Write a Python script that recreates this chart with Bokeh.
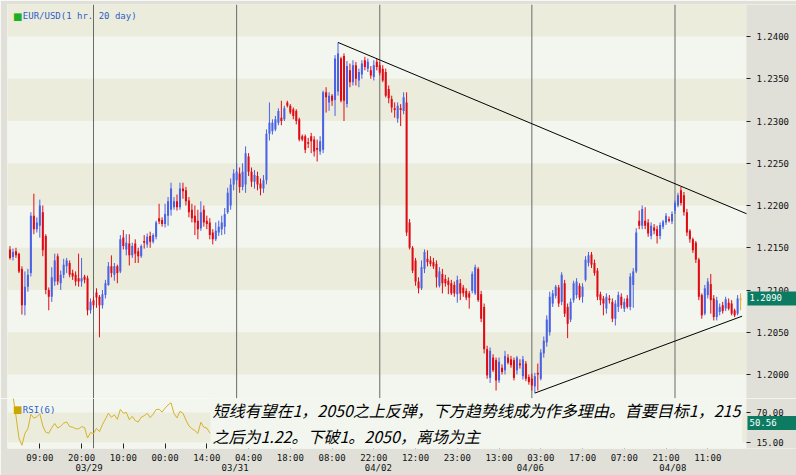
import numpy as np
from bokeh.plotting import figure
from bokeh.layouts import column
from bokeh.models import (FixedTicker, Span, Label, BoxAnnotation, Range1d,
                          ColumnDataSource, PrintfTickFormatter)
from bokeh.embed import file_html
from bokeh.resources import INLINE

# ---------------- data (EUR/USD 1 hr bars) ----------------
open_ = [1.2148,1.2139,1.2146,1.2143,1.2125,1.2082,1.2104,1.2120,1.2188,1.2172,
         1.2176,1.2192,1.2164,1.2100,1.2092,1.2110,1.2140,1.2108,1.2118,1.2128,
         1.2132,1.2120,1.2118,1.2114,1.2110,1.2116,1.2114,1.2076,1.2088,1.2097,
         1.2092,1.2082,1.2094,1.2106,1.2128,1.2118,1.2128,1.2122,1.2162,1.2148,
         1.2155,1.2141,1.2155,1.2146,1.2140,1.2158,1.2154,1.2164,1.2157,1.2163,
         1.2185,1.2183,1.2178,1.2188,1.2195,1.2198,1.2205,1.2198,1.2220,1.2218,
         1.2206,1.2195,1.2188,1.2182,1.2173,1.2195,1.2182,1.2180,1.2168,1.2160,
         1.2168,1.2172,1.2175,1.2192,1.2200,1.2225,1.2230,1.2238,1.2222,1.2225,
         1.2258,1.2240,1.2228,1.2235,1.2226,1.2220,1.2230,1.2285,1.2288,1.2290,
         1.2298,1.2304,1.2302,1.2322,1.2318,1.2314,1.2312,1.2302,1.2282,1.2282,
         1.2275,1.2282,1.2278,1.2268,1.2264,1.2266,1.2334,1.2322,1.2330,1.2325,
         1.2335,1.2374,1.2377,1.2320,1.2360,1.2346,1.2366,1.2348,1.2355,1.2372,
         1.2362,1.2360,1.2352,1.2370,1.2366,1.2362,1.2358,1.2338,1.2326,1.2315,
         1.2303,1.2315,1.2312,1.2322,1.2180,1.2150,1.2135,1.2110,1.2102,1.2125,
         1.2137,1.2135,1.2133,1.2131,1.2105,1.2119,1.2113,1.2111,1.2108,1.2106,
         1.2095,1.2108,1.2103,1.2099,1.2096,1.2099,1.2096,1.2125,1.2095,1.2080,
         1.2030,1.1996,1.2020,1.2017,1.1993,1.2008,1.2005,1.2020,1.2018,1.2017,
         1.2005,1.2013,1.1998,1.2013,1.1997,1.1995,1.1986,1.2002,1.1995,1.2025,
         1.2038,1.2050,1.2084,1.2093,1.2103,1.2086,1.2108,1.2080,1.2065,1.2088,
         1.2094,1.2105,1.2092,1.2112,1.2132,1.2142,1.2132,1.2123,1.2095,1.2090,
         1.2078,1.2090,1.2086,1.2066,1.2080,1.2092,1.2078,1.2090,1.2080,1.2106,
         1.2122,1.2182,1.2176,1.2182,1.2180,1.2164,1.2174,1.2172,1.2164,1.2175,
         1.2180,1.2184,1.2181,1.2194,1.2200,1.2218,1.2212,1.2192,1.2170,1.2160,
         1.2156,1.2136,1.2094,1.2072,1.2094,1.2107,1.2090,1.2068,1.2074,1.2082,
         1.2078,1.2085,1.2084,1.2076,1.2072,1.2088]
high_ = [1.2152,1.2149,1.2150,1.2144,1.2128,1.2122,1.2125,1.2192,1.2214,1.2186,
         1.2207,1.2200,1.2166,1.2103,1.2127,1.2143,1.2143,1.2123,1.2137,1.2138,
         1.2135,1.2124,1.2122,1.2143,1.2138,1.2118,1.2117,1.2090,1.2092,1.2102,
         1.2094,1.2100,1.2112,1.2133,1.2141,1.2132,1.2130,1.2165,1.2171,1.2166,
         1.2166,1.2156,1.2160,1.2150,1.2154,1.2165,1.2167,1.2169,1.2167,1.2182,
         1.2202,1.2186,1.2202,1.2210,1.2227,1.2210,1.2213,1.2227,1.2227,1.2222,
         1.2210,1.2202,1.2200,1.2195,1.2205,1.2200,1.2188,1.2185,1.2172,1.2180,
         1.2182,1.2188,1.2197,1.2221,1.2232,1.2243,1.2250,1.2245,1.2250,1.2270,
         1.2262,1.2245,1.2242,1.2240,1.2232,1.2236,1.2290,1.2322,1.2302,1.2306,
         1.2315,1.2324,1.2318,1.2324,1.2320,1.2316,1.2314,1.2304,1.2284,1.2284,
         1.2280,1.2286,1.2282,1.2278,1.2282,1.2336,1.2340,1.2334,1.2332,1.2378,
         1.2393,1.2376,1.2380,1.2371,1.2368,1.2372,1.2370,1.2362,1.2372,1.2376,
         1.2374,1.2365,1.2372,1.2374,1.2370,1.2366,1.2362,1.2342,1.2330,1.2322,
         1.2322,1.2320,1.2334,1.2334,1.2184,1.2152,1.2138,1.2115,1.2135,1.2148,
         1.2147,1.2140,1.2138,1.2135,1.2127,1.2125,1.2118,1.2115,1.2112,1.2110,
         1.2117,1.2113,1.2106,1.2102,1.2099,1.2122,1.2130,1.2127,1.2099,1.2084,
         1.2034,1.2032,1.2024,1.2020,1.2020,1.2012,1.2028,1.2024,1.2022,1.2020,
         1.2022,1.2018,1.2022,1.2016,1.2000,1.2001,1.2002,1.2013,1.2030,1.2045,
         1.2070,1.2098,1.2100,1.2106,1.2106,1.2121,1.2112,1.2084,1.2090,1.2111,
         1.2114,1.2108,1.2108,1.2140,1.2145,1.2145,1.2136,1.2126,1.2098,1.2093,
         1.2096,1.2094,1.2090,1.2088,1.2098,1.2096,1.2090,1.2094,1.2120,1.2126,
         1.2173,1.2194,1.2200,1.2198,1.2184,1.2180,1.2178,1.2176,1.2180,1.2183,
         1.2191,1.2187,1.2193,1.2206,1.2215,1.2222,1.2216,1.2196,1.2172,1.2162,
         1.2158,1.2138,1.2096,1.2106,1.2114,1.2119,1.2094,1.2092,1.2084,1.2086,
         1.2092,1.2090,1.2088,1.2078,1.2094,1.2096]
low_ = [1.2136,1.2135,1.2138,1.2120,1.2071,1.2070,1.2098,1.2116,1.2166,1.2168,
        1.2162,1.2140,1.2095,1.2076,1.2086,1.2105,1.2106,1.2100,1.2114,1.2120,
        1.2115,1.2112,1.2105,1.2104,1.2104,1.2108,1.2070,1.2072,1.2078,1.2079,
        1.2044,1.2078,1.2090,1.2105,1.2115,1.2111,1.2108,1.2120,1.2148,1.2141,
        1.2129,1.2138,1.2132,1.2132,1.2138,1.2149,1.2150,1.2150,1.2155,1.2160,
        1.2178,1.2175,1.2174,1.2176,1.2188,1.2195,1.2194,1.2195,1.2208,1.2200,
        1.2186,1.2180,1.2165,1.2160,1.2170,1.2175,1.2172,1.2160,1.2154,1.2158,
        1.2164,1.2165,1.2166,1.2190,1.2195,1.2218,1.2225,1.2215,1.2218,1.2215,
        1.2235,1.2222,1.2220,1.2218,1.2212,1.2215,1.2225,1.2277,1.2284,1.2288,
        1.2295,1.2295,1.2300,1.2316,1.2308,1.2302,1.2296,1.2276,1.2276,1.2262,
        1.2268,1.2262,1.2258,1.2252,1.2260,1.2262,1.2310,1.2312,1.2318,1.2306,
        1.2330,1.2322,1.2300,1.2316,1.2340,1.2342,1.2342,1.2340,1.2350,1.2360,
        1.2358,1.2350,1.2348,1.2360,1.2354,1.2346,1.2328,1.2321,1.2310,1.2304,
        1.2298,1.2294,1.2308,1.2164,1.2148,1.2120,1.2105,1.2096,1.2100,1.2120,
        1.2128,1.2128,1.2125,1.2103,1.2103,1.2096,1.2104,1.2095,1.2094,1.2092,
        1.2085,1.2088,1.2092,1.2088,1.2078,1.2096,1.2094,1.2086,1.2062,1.2025,
        1.1995,1.1990,1.2003,1.1981,1.1990,1.2000,1.2000,1.2012,1.2008,1.1993,
        1.2000,1.2007,1.1994,1.1992,1.1988,1.1981,1.1978,1.1981,1.1993,1.2020,
        1.2033,1.2046,1.2080,1.2090,1.2080,1.2082,1.2068,1.2043,1.2062,1.2085,
        1.2090,1.2088,1.2085,1.2110,1.2128,1.2126,1.2117,1.2088,1.2082,1.2070,
        1.2072,1.2084,1.2062,1.2058,1.2074,1.2078,1.2074,1.2078,1.2076,1.2079,
        1.2120,1.2172,1.2172,1.2172,1.2163,1.2160,1.2166,1.2155,1.2160,1.2172,
        1.2177,1.2180,1.2178,1.2190,1.2198,1.2200,1.2188,1.2164,1.2156,1.2144,
        1.2132,1.2088,1.2066,1.2070,1.2090,1.2072,1.2064,1.2064,1.2070,1.2072,
        1.2075,1.2076,1.2070,1.2068,1.2070,1.2076]
close_ = [1.2138,1.2145,1.2141,1.2122,1.2082,1.2104,1.2118,1.2188,1.2172,1.2180,
          1.2200,1.2147,1.2100,1.2092,1.2115,1.2135,1.2110,1.2118,1.2130,1.2135,
          1.2118,1.2116,1.2110,1.2110,1.2114,1.2112,1.2076,1.2086,1.2082,1.2091,
          1.2082,1.2095,1.2108,1.2128,1.2120,1.2128,1.2120,1.2160,1.2152,1.2156,
          1.2141,1.2152,1.2143,1.2140,1.2152,1.2156,1.2163,1.2157,1.2165,1.2180,
          1.2181,1.2178,1.2190,1.2205,1.2220,1.2205,1.2198,1.2220,1.2217,1.2205,
          1.2192,1.2185,1.2180,1.2172,1.2192,1.2180,1.2178,1.2165,1.2160,1.2170,
          1.2175,1.2180,1.2190,1.2215,1.2225,1.2238,1.2240,1.2222,1.2240,1.2262,
          1.2240,1.2228,1.2236,1.2225,1.2220,1.2230,1.2285,1.2298,1.2298,1.2302,
          1.2312,1.2300,1.2315,1.2318,1.2310,1.2306,1.2300,1.2278,1.2278,1.2266,
          1.2273,1.2276,1.2264,1.2266,1.2276,1.2334,1.2328,1.2330,1.2324,1.2374,
          1.2380,1.2324,1.2324,1.2365,1.2346,1.2366,1.2350,1.2358,1.2368,1.2364,
          1.2370,1.2354,1.2366,1.2364,1.2357,1.2348,1.2330,1.2327,1.2316,1.2313,
          1.2318,1.2313,1.2328,1.2168,1.2150,1.2123,1.2110,1.2102,1.2127,1.2145,
          1.2133,1.2131,1.2128,1.2115,1.2122,1.2108,1.2108,1.2106,1.2096,1.2096,
          1.2112,1.2096,1.2096,1.2091,1.2091,1.2119,1.2127,1.2088,1.2066,1.2030,
          1.1999,1.2028,1.2005,1.1993,1.2015,1.2003,1.2022,1.2014,1.2011,1.1996,
          1.2020,1.2011,1.2018,1.1995,1.1991,1.1987,1.1998,1.2000,1.2026,1.2040,
          1.2065,1.2092,1.2096,1.2104,1.2084,1.2118,1.2072,1.2060,1.2086,1.2108,
          1.2110,1.2091,1.2104,1.2136,1.2141,1.2130,1.2120,1.2092,1.2088,1.2084,
          1.2092,1.2088,1.2066,1.2084,1.2094,1.2082,1.2086,1.2080,1.2116,1.2122,
          1.2168,1.2176,1.2196,1.2176,1.2167,1.2176,1.2170,1.2164,1.2177,1.2181,
          1.2188,1.2182,1.2190,1.2203,1.2212,1.2203,1.2192,1.2168,1.2160,1.2147,
          1.2136,1.2092,1.2070,1.2102,1.2110,1.2088,1.2068,1.2088,1.2080,1.2075,
          1.2089,1.2078,1.2072,1.2070,1.2090,1.2090]

time_ticks = [10, 24, 38, 52, 66, 80, 94, 108, 122, 136, 150, 164, 178, 192, 206, 220, 234]
time_labels = ["09:00", "20:00", "10:00", "00:00", "14:00", "04:00", "18:00", "08:00", "22:00",
               "12:00", "23:00", "13:00", "03:00", "17:00", "07:00", "21:00", "11:00"]
day_lines = [28, 76, 124, 175, 223]
date_ticks = [26.5, 75.5, 123.5, 174.5, 222.3]
date_labels = ["03/29", "03/31", "04/02", "04/06", "04/08"]
price_ticks = [1.2000, 1.2050, 1.2100, 1.2150, 1.2200, 1.2250, 1.2300, 1.2350, 1.2400]
band_bottoms = [1.2000, 1.2100, 1.2200, 1.2300, 1.2400]
rsi_ticks = [15, 70]
last_price = 1.2090
last_rsi = 50.56
down_x = [110, 246.98]
down_y = [1.2393, 1.21903]
up_x = [176, 245.5]
up_y = [1.1978, 1.2069]
note = ("短线有望在1，2050之上反弹，下方趋势线成为作多理由。首要目标1，215\n"
        "之后为1.22。下破1。2050，离场为主")

# ---------------- style ----------------
MONO = "DejaVu Sans Mono"
FS = "9px"
BG = "#F2F6EE"
BEIGE = "#ECECDC"
BORDER = "#E0E0D8"
UP = "#4A62E4"
DOWN = "#E00A14"
LASTC = "#F0A830"
TEAL = "#0C7B62"
LINEC = "#6A6A6A"
XEDGE = 246.98          # x position (bar index) of the price-axis line
xr = Range1d(-0.84, 263.75)   # the strip right of XEDGE is the axis strip

n = len(close_)
idx = list(range(n))
colors = [UP if c > o else DOWN for o, c in zip(open_, close_)]
colors[-1] = LASTC
tops = [max(o, c) for o, c in zip(open_, close_)]
bots = [min(o, c) for o, c in zip(open_, close_)]
tops = [t if t - b >= 0.00012 else b + 0.00012 for t, b in zip(tops, bots)]
src = ColumnDataSource(dict(x=idx, h=high_, l=low_, top=tops, bottom=bots, color=colors))


def style_y(ax):
    ax.fixed_location = XEDGE
    ax.axis_line_color = None
    ax.major_tick_in = 0
    ax.major_tick_out = 4
    ax.major_tick_line_color = "#222222"
    ax.major_label_standoff = 6
    ax.major_label_text_font = MONO
    ax.major_label_text_font_size = FS
    ax.major_label_text_color = "#111111"


def tag(y, txt):
    return Label(x=XEDGE, y=y, x_offset=1, text=txt, text_color="white",
                 background_fill_color=TEAL, text_font=MONO, text_font_size=FS,
                 text_baseline="middle", text_align="left", padding=2)


def base(fig):
    fig.background_fill_color = BG
    fig.border_fill_color = BORDER
    fig.outline_line_color = None
    fig.grid.visible = False
    fig.add_layout(BoxAnnotation(left=XEDGE, fill_color=BORDER, fill_alpha=1,
                                 line_color=None, level="underlay"))
    for dl in day_lines:
        fig.add_layout(Span(location=dl, dimension="height", line_color=LINEC,
                            line_width=1, level="underlay"))


p = figure(width=796, frame_height=394, x_range=xr, y_range=Range1d(1.19716, 1.24379),
           output_backend="svg", toolbar_location=None, y_axis_location="right",
           x_axis_location=None, min_border_left=7, min_border_top=4,
           min_border_bottom=0, min_border_right=0)
for b in band_bottoms:
    p.add_layout(BoxAnnotation(bottom=b, top=b + 0.005, right=XEDGE, fill_color=BEIGE,
                               fill_alpha=1, line_color=None, level="underlay"))
base(p)
p.yaxis.ticker = FixedTicker(ticks=price_ticks)
p.yaxis.formatter = PrintfTickFormatter(format="%.4f")
style_y(p.yaxis[0])

p.segment(x0="x", y0="l", x1="x", y1="h", color="color", line_width=1, source=src)
p.vbar(x="x", width=0.68, top="top", bottom="bottom", fill_color="color",
       line_color=None, source=src)

p.line(down_x, down_y, line_color="black", line_width=1)
p.line(up_x, up_y, line_color="black", line_width=1)

p.add_layout(Label(x=1.0, y=1.24237, text="■", text_color="#1FAF1F", text_font="DejaVu Sans",
                   text_font_size="10px", text_baseline="middle"))
p.add_layout(Label(x=4.3, y=1.24237, text="EUR/USD(1 hr.  20 day)", text_color="#2E5EC8",
                   text_font=MONO, text_font_size=FS, text_baseline="middle"))
p.add_layout(tag(last_price, f" {last_price:.4f}   "))

# ---------------- RSI panel ----------------
c = np.array(close_)
d = np.diff(c)
up = np.clip(d, 0, None)
dn = np.clip(-d, 0, None)
N = 6
rsi = [np.nan]
au = ad = 0.0
for k in range(len(d)):
    if k < N:
        au = up[:k + 1].mean()
        ad = dn[:k + 1].mean()
    else:
        au = (au * (N - 1) + up[k]) / N
        ad = (ad * (N - 1) + dn[k]) / N
    rsi.append(100 * au / (au + ad) if au + ad > 0 else 50.0)

r = figure(width=796, frame_height=50, x_range=xr, y_range=Range1d(4, 95.7),
           output_backend="svg", toolbar_location=None, y_axis_location="right",
           min_border_left=7, min_border_top=0, min_border_right=0, min_border_bottom=27)
r.add_layout(BoxAnnotation(bottom=15, top=70, right=XEDGE, fill_color=BEIGE, fill_alpha=1,
                           line_color=None, level="underlay"))
base(r)
r.line(idx, rsi, line_color="#D4B22A", line_width=1)

r.yaxis.ticker = FixedTicker(ticks=rsi_ticks)
r.yaxis.formatter = PrintfTickFormatter(format="%.2f")
style_y(r.yaxis[0])

r.xaxis.ticker = FixedTicker(ticks=time_ticks + date_ticks, minor_ticks=time_ticks)
overrides = {t: lab for t, lab in zip(time_ticks, time_labels)}
overrides.update({t: "\n" + lab for t, lab in zip(date_ticks, date_labels)})
r.xaxis.major_label_overrides = overrides
r.xaxis.axis_line_color = None
r.xaxis.major_tick_in = 0
r.xaxis.major_tick_out = 0
r.xaxis.minor_tick_in = 5
r.xaxis.minor_tick_out = 0
r.xaxis.minor_tick_line_color = "#222222"
r.xaxis.major_label_standoff = 4
r.xaxis.major_label_text_font = MONO
r.xaxis.major_label_text_font_size = FS
r.xaxis.major_label_text_line_height = 1.0
r.xaxis.major_label_text_color = "#111111"

r.add_layout(Label(x=1.0, y=75.5, text="■", text_color="#C8A800", text_font="DejaVu Sans",
                   text_font_size="10px", text_baseline="middle"))
r.add_layout(Label(x=4.3, y=75.5, text="RSI(6)", text_color="#2E5EC8",
                   text_font=MONO, text_font_size=FS, text_baseline="middle"))
r.add_layout(Label(x=67.2, y=95.7, y_offset=3, text=note, text_color="black",
                   text_font="Noto Sans CJK SC", text_font_style="italic",
                   text_font_size="16px", text_line_height=1.1, text_baseline="top",
                   text_align="left", background_fill_color=BG, background_fill_alpha=1,
                   padding=2))
r.add_layout(tag(last_rsi, f" {last_rsi:.2f}    "))

layout = column(p, r, spacing=0)
open("out.html", "w").write(file_html(layout, INLINE))
